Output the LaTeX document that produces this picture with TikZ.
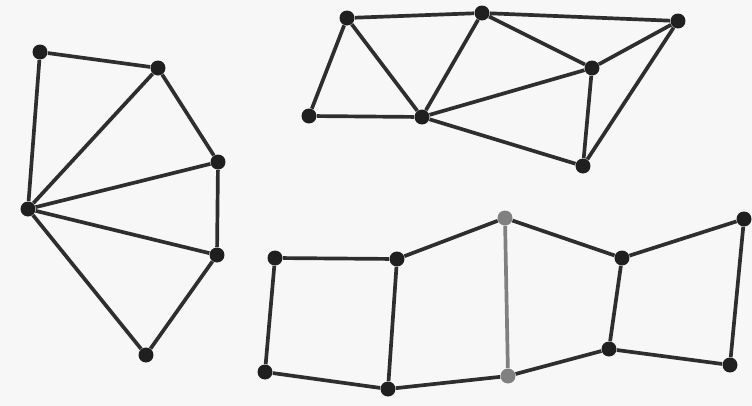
\documentclass[tikz,border=0pt]{standalone}
\begin{document}
\begin{tikzpicture}[x=0.02cm,y=-0.02cm,
  dot/.style={circle,fill=black!88,inner sep=0pt,minimum size=0.3cm},
  gdot/.style={circle,fill=black!50,inner sep=0pt,minimum size=0.3cm},
  edge/.style={draw=black!82,line width=2.1pt},
  gedge/.style={draw=black!50,line width=2.1pt}]
\fill[black!3] (0,0) rectangle (752,406);
\useasboundingbox (0,0) rectangle (752,406);
% left fan
\node[dot] (A) at (40,52) {};
\node[dot] (B) at (158,68) {};
\node[dot] (C) at (218,162) {};
\node[dot] (D) at (217,255) {};
\node[dot] (E) at (146,355) {};
\node[dot] (F) at (28,209) {};
\path[edge] (A)--(B) (B)--(C) (C)--(D) (D)--(E) (E)--(F) (F)--(A)
  (F)--(B) (F)--(C) (F)--(D);
% top
\node[dot] (P1) at (347,18) {};
\node[dot] (P2) at (482,13) {};
\node[dot] (P3) at (678,21) {};
\node[dot] (P4) at (592,68) {};
\node[dot] (P5) at (583,166) {};
\node[dot] (P6) at (422,117) {};
\node[dot] (P7) at (309,116) {};
\path[edge] (P7)--(P1) (P1)--(P2) (P2)--(P3) (P1)--(P6) (P7)--(P6)
  (P6)--(P2) (P2)--(P4) (P4)--(P3) (P6)--(P4) (P6)--(P5) (P5)--(P3) (P4)--(P5);
% bottom
\node[dot] (Q1) at (275,258) {};
\node[dot] (Q2) at (397,259) {};
\node[gdot] (Q3) at (505,218) {};
\node[dot] (Q4) at (622,258) {};
\node[dot] (Q5) at (744,219) {};
\node[dot] (Q6) at (730,365) {};
\node[dot] (Q7) at (609,349) {};
\node[gdot] (Q8) at (508,376) {};
\node[dot] (Q9) at (388,389) {};
\node[dot] (Q10) at (265,372) {};
\path[edge] (Q1)--(Q2) (Q2)--(Q3) (Q3)--(Q4) (Q4)--(Q5) (Q5)--(Q6) (Q6)--(Q7)
  (Q7)--(Q8) (Q8)--(Q9) (Q9)--(Q10) (Q10)--(Q1) (Q2)--(Q9) (Q4)--(Q7);
\path[gedge] (Q3)--(Q8);
\end{tikzpicture}
\end{document}
